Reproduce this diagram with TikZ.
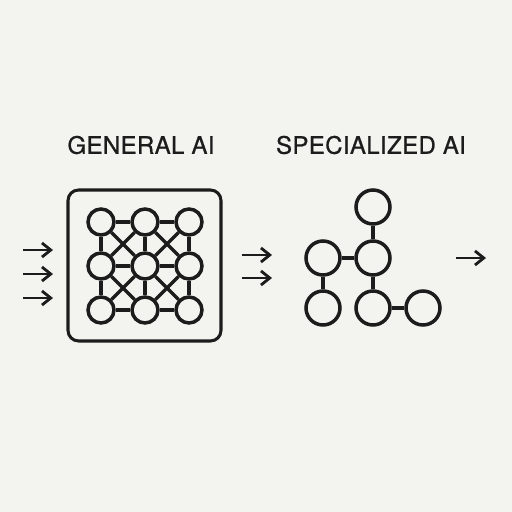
\documentclass[tikz,border=0pt]{standalone}
\usepackage{fontspec}
\setsansfont{TeX Gyre Heros}[FakeBold=0.8,LetterSpace=1.5]
\usepackage{tikz}
\usetikzlibrary{positioning,arrows.meta}

\definecolor{paper}{RGB}{243,243,240}
\definecolor{ink}{RGB}{28,28,28}

\begin{document}
\begin{tikzpicture}[x=0.03cm,y=-0.03cm,
                    line width=3pt, draw=ink,
                    gnode/.style={circle,draw=ink,fill=paper,minimum size=26*0.03cm,inner sep=0pt},
                    snode/.style={circle,draw=ink,fill=paper,minimum size=34*0.03cm,inner sep=0pt},
                    flow/.style={ink,line width=2.4pt,-{Straight Barb[length=7.5pt,width=12pt]}},
                    heading/.style={font=\sffamily\fontsize{20.5}{24}\selectfont,text=ink}]
  \fill[paper] (0,0) rectangle (512,512);
  \useasboundingbox (0,0) rectangle (512,512);

  % titles
  \node[heading] (tgen) at (141,145) {GENERAL AI};
  \node[heading] (tspec) at (371,145) {SPECIALIZED AI};

  % general model
  \node[draw=ink,line width=2.6pt,rounded corners=9pt,minimum width=153*0.03cm,
        minimum height=151*0.03cm] (frame) at (144.5,265.5) {};
  \foreach \c/\x in {0/101,1/145,2/189}
    \foreach \r/\y in {0/222,1/266,2/310}
      \node[gnode] (g\c\r) at (\x,\y) {};

  % grid edges
  \foreach \a/\b in {g00/g10,g10/g20,g01/g11,g11/g21,g02/g12,g12/g22,
                     g00/g01,g01/g02,g10/g11,g11/g12,g20/g21,g21/g22,
                     g00/g11,g10/g01,g10/g21,g20/g11,
                     g01/g12,g11/g02,g11/g22,g21/g12}
    \draw (\a) -- (\b);

  % specialized model
  \node[snode] (top) at (373,207) {};
  \node[snode] (mid) at (373,258) {};
  \node[snode] (left) at (323,258) {};
  \node[snode] (lowl) at (323,308) {};
  \node[snode] (lowm) at (373,308) {};
  \node[snode] (lowr) at (423,308) {};

  \draw (top) -- (mid);
  \draw (mid) -- (left);
  \draw (left) -- (lowl);
  \draw (mid) -- (lowm);
  \draw (lowm) -- (lowr);

  % inputs
  \foreach \i/\y in {1/250,2/274,3/298} {
    \coordinate (in\i) at (23,\y);
    \coordinate (into\i) at (53,\y);
    \draw[flow] (in\i) -- (into\i);
  }

  % handover
  \coordinate (h1) at (242,255);
  \coordinate (h1e) at (272,255);
  \coordinate (h2) at (242,278);
  \coordinate (h2e) at (272,278);
  \draw[flow] (h1) -- (h1e);
  \draw[flow] (h2) -- (h2e);

  % output
  \coordinate (out) at (456,258);
  \coordinate (oute) at (486,258);
  \draw[flow] (out) -- (oute);
\end{tikzpicture}
\end{document}
